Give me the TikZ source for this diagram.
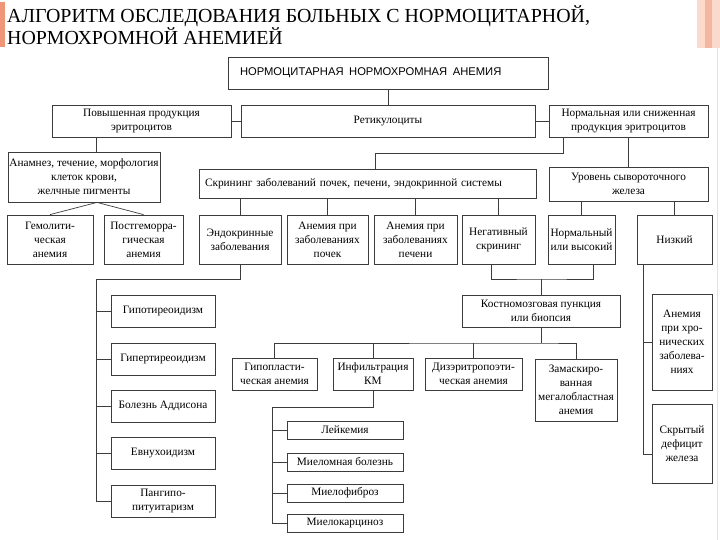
\documentclass[tikz,border=0pt]{standalone}
\usepackage{fontspec}
\setmainfont{Liberation Serif}
\newfontfamily\capsans{Liberation Sans}
\usepackage{xcolor}
\usepackage{tikz}
\definecolor{slidebar}{RGB}{240,150,120}
\definecolor{slidepeach}{RGB}{250,218,204}
\definecolor{boxline}{RGB}{60,60,60}

\begin{document}
\begin{tikzpicture}[x=1pt, y=-1pt,
    box/.style={draw=boxline, line width=0.8pt, fill=white, align=center,
      inner sep=1pt, font=\fontsize{11.3}{14}\selectfont},
    sz/.style 2 args={minimum width=#1, minimum height=#2},
    link/.style={draw=boxline, line width=0.7pt},
    head/.style={font=\fontsize{19.9}{22}\selectfont, anchor=base west,
      inner sep=0pt}]
  \useasboundingbox (0,0) rectangle (720,540);
  \fill[white] (0,0) rectangle (720,540);
  % slide frame
  \fill[slidebar] (0,2) rectangle (5,47);
  \fill[slidepeach] (697,0) rectangle (720,48);
  \fill[slidebar!70] (705,0) rectangle (712,48);
  \draw[slidebar!35, line width=1pt] (717,48) -- (717,540);
  \node[head] (title1) at (7,23) {АЛГОРИТМ ОБСЛЕДОВАНИЯ БОЛЬНЫХ С НОРМОЦИТАРНОЙ,};
  \node[head] (title2) at (7,45) {НОРМОХРОМНОЙ АНЕМИЕЙ};

  \node[box, sz={320}{32}, font=\capsans\fontsize{11.2}{12}\selectfont,
    inner xsep=12pt, text width=296, align=left] (anemia)
    at (388,73) {НОРМОЦИТАРНАЯ\enspace НОРМОХРОМНАЯ\enspace АНЕМИЯ};
  \node[box, sz={179}{32}] (high) at (141.5,121) {Повышенная продукция\\эритроцитов};
  \node[box, sz={294}{32}] (retic) at (388,121) {Ретикулоциты};
  \node[box, sz={159}{32}] (lowprod) at (628.5,121)
    {Нормальная или сниженная\\продукция эритроцитов};

  \node[box, sz={152}{50}] (hist) at (84,177)
    {Анамнез, течение, морфология\\клеток крови,\\желчные пигменты};
  \node[box, sz={337}{29}, inner xsep=6pt, text width=325, align=left] (screen)
    at (367.5,183.5) {Скрининг заболеваний почек, печени, эндокринной системы};
  \node[box, sz={159}{34}] (iron) at (628.5,184) {Уровень сывороточного\\железа};

  \node[box, sz={86}{49}] (hemol) at (50,239.5) {Гемолити-\\ческая\\анемия};
  \node[box, sz={79}{49}] (posth) at (143.5,239.5) {Постгеморра-\\гическая\\анемия};
  \node[box, sz={82}{49}] (endo) at (240,239.5) {Эндокринные\\заболевания};
  \node[box, sz={81}{49}] (kidney) at (327.5,239.5) {Анемия при\\заболеваниях\\почек};
  \node[box, sz={83}{49}] (liver) at (415.5,239.5) {Анемия при\\заболеваниях\\печени};
  \node[box, sz={73}{49}] (neg) at (498.5,239.5) {Негативный\\скрининг};
  \node[box, sz={67}{49}] (normfe) at (581.5,239.5) {Нормальный\\или высокий};
  \node[box, sz={75}{49}] (lowfe) at (674.5,239.5) {Низкий};

  \node[box, sz={158}{32}] (marrow) at (541,311) {Костномозговая пункция\\или биопсия};
  \node[box, sz={85}{32}] (hypo) at (274.5,374) {Гипопласти-\\ческая анемия};
  \node[box, sz={80}{32}] (infil) at (373,374) {Инфильтрация\\КМ};
  \node[box, sz={97}{32}] (dyser) at (473.5,374) {Дизэритропоэти-\\ческая анемия};
  \node[box, sz={82}{62}] (megal) at (576,390)
    {Замаскиро-\\ванная\\мегалобластная\\анемия};

  \node[box, sz={60}{96}] (chronic) at (682,342)
    {Анемия\\при хро-\\нических\\заболева-\\ниях};
  \node[box, sz={60}{79}] (hidden) at (682,443.5) {Скрытый\\дефицит\\железа};

  % upper links
  \draw[link] (anemia.south) -- (retic.north);
  \draw[link] (high.east) -- (retic.west);
  \draw[link] (retic.east) -- (lowprod.west);
  \draw[link] ([xshift=-45.5pt]high.south) -- ([xshift=-45.5pt]high.south |- hist.north);
  \coordinate (hapex) at ([xshift=13pt]hist.south);
  \draw[link] (hemol.north) -- (hapex) -- (posth.north);
  \coordinate (sjoin) at (375,153);
  \draw[link] ([xshift=-65.5pt]lowprod.south) |- (sjoin) -- (sjoin |- screen.north);
  \draw[link] (lowprod.south) -- (iron.north);
  \foreach \b in {endo, kidney, liver, neg}
    \draw[link] (screen.south -| \b.north) -- (\b.north);
  \foreach \b in {normfe, lowfe}
    \draw[link] (iron.south -| \b.north) -- (\b.north);

  % marrow branch
  \coordinate (mjoin) at (541,279);
  \draw[link] ([xshift=-7.5pt]neg.south) |- (mjoin) -| ([xshift=11.5pt]normfe.south);
  \draw[link] (mjoin) -- (marrow.north);
  \coordinate (rjoin) at (541,343);
  \draw[link] (marrow.south) -- (rjoin);
  \draw[link] (hypo.north) |- (rjoin) -| (megal.north);
  \foreach \b in {infil, dyser}
    \draw[link] (\b.north) -- (\b.north |- rjoin);

  % endocrine list
  \coordinate (etrunk) at (96,279);
  \foreach \txt/\yy [count=\i] in {Гипотиреоидизм/311.5, Гипертиреоидизм/359,
      Болезнь Аддисона/406, Евнухоидизм/453.5, {Пангипо-\\питуитаризм}/501} {
    \node[box, sz={104}{32}] (endo\i) at (163,\yy) {\txt};
    \draw[link] (endo\i.west) -- (endo\i.west -| etrunk);
  }
  \draw[link] (endo.south) |- (etrunk) -- (etrunk |- endo5.west);

  % infiltration list
  \coordinate (mtrunk) at (272,407);
  \foreach \txt/\yy [count=\i] in {Лейкемия/430, Миеломная болезнь/462,
      Миелофиброз/493, Миелокарциноз/523} {
    \node[box, sz={116}{18}] (infil\i) at (345,\yy) {\txt};
    \draw[link] (infil\i.west) -- (infil\i.west -| mtrunk);
  }
  \draw[link] (infil.south) |- (mtrunk) -- (mtrunk |- infil4.west);

  % iron deficiency side
  \draw[link] ([xshift=-31.5pt]lowfe.south) |- (chronic.west);
  \draw[link] ([xshift=-31.5pt]lowfe.south) |- ([yshift=-11pt]hidden.west);
\end{tikzpicture}
\end{document}
